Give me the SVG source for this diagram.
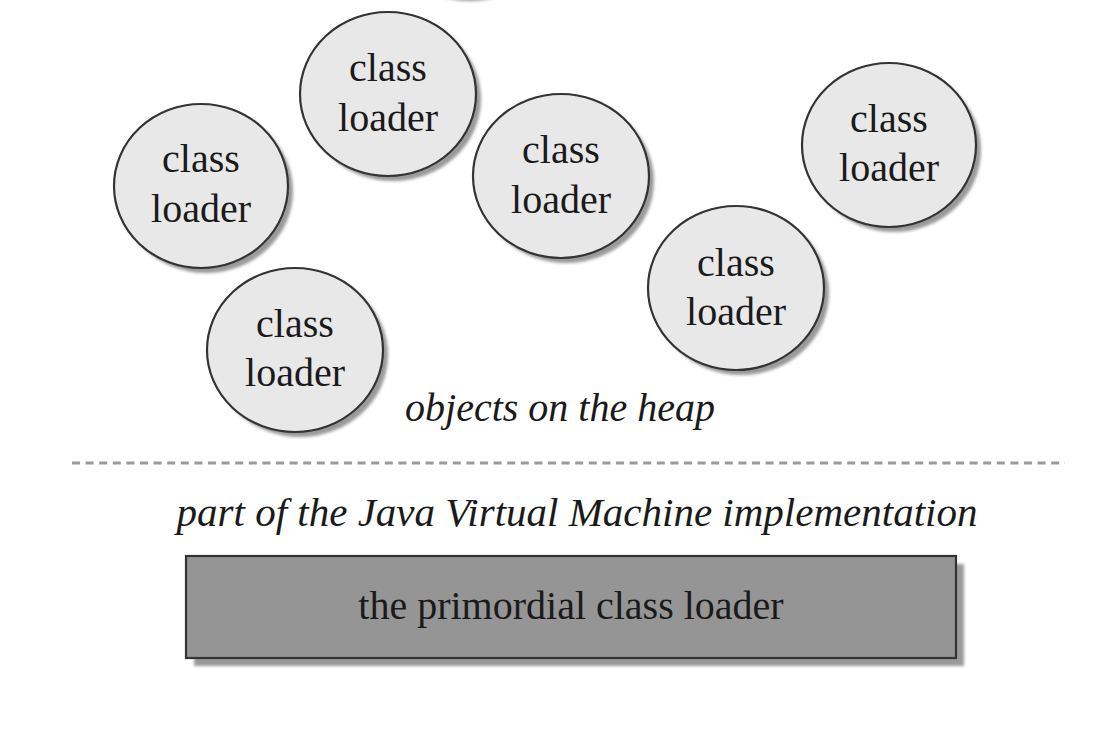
<svg xmlns="http://www.w3.org/2000/svg" width="1120" height="746" viewBox="0 0 1120 746">
<defs>
<filter id="blur" x="-10%" y="-10%" width="130%" height="130%"><feGaussianBlur stdDeviation="1.5"/></filter>
<style>
.sh{fill:#9a9a9a;filter:url(#blur)}
.cl{fill:#e8e8e8;stroke:#333;stroke-width:2.2}
.t{font-family:"Liberation Serif","Times New Roman",serif;font-size:40px;fill:#1a1a1a;text-anchor:middle}
.it{font-family:"Liberation Serif","Times New Roman",serif;font-size:40px;font-style:italic;fill:#1a1a1a;text-anchor:middle}
</style>
</defs>
<rect width="1120" height="746" fill="#fff"/>
<g id="partial">
<ellipse class="sh" cx="470" cy="-81" rx="88" ry="82"/>
<ellipse class="cl" cx="466" cy="-84" rx="88" ry="82"/>
</g>
<g id="cl-top">
<ellipse class="sh" cx="393" cy="99" rx="88" ry="82"/>
<ellipse class="cl" cx="388" cy="94" rx="88" ry="82"/>
<text class="t" x="388" y="81">class</text>
<text class="t" x="388" y="131">loader</text>
</g>
<g id="cl-left">
<ellipse class="sh" cx="206" cy="191" rx="87" ry="82"/>
<ellipse class="cl" cx="201" cy="186" rx="87" ry="82"/>
<text class="t" x="201" y="172">class</text>
<text class="t" x="201" y="222">loader</text>
</g>
<g id="cl-center">
<ellipse class="sh" cx="566" cy="181" rx="88" ry="82"/>
<ellipse class="cl" cx="561" cy="176" rx="88" ry="82"/>
<text class="t" x="561" y="163">class</text>
<text class="t" x="561" y="213">loader</text>
</g>
<g id="cl-right">
<ellipse class="sh" cx="894" cy="150" rx="87" ry="82"/>
<ellipse class="cl" cx="889" cy="145" rx="87" ry="82"/>
<text class="t" x="889" y="132">class</text>
<text class="t" x="889" y="181">loader</text>
</g>
<g id="cl-mid">
<ellipse class="sh" cx="741" cy="293" rx="88" ry="82"/>
<ellipse class="cl" cx="736" cy="288" rx="88" ry="82"/>
<text class="t" x="736" y="276">class</text>
<text class="t" x="736" y="325">loader</text>
</g>
<g id="cl-low">
<ellipse class="sh" cx="300" cy="355" rx="88" ry="82"/>
<ellipse class="cl" cx="295" cy="350" rx="88" ry="82"/>
<text class="t" x="295" y="337">class</text>
<text class="t" x="295" y="386">loader</text>
</g>
<g id="labels">
<text class="it" x="560" y="421">objects on the heap</text>
<line x1="72" y1="463" x2="1065" y2="463" stroke="#9a9a9a" stroke-width="3" stroke-dasharray="8 5.6"/>
<text class="it" x="577" y="526" style="font-size:41px">part of the Java Virtual Machine implementation</text>
</g>
<g id="primordial">
<rect x="194" y="564" width="770" height="102" class="sh"/>
<rect x="186" y="556" width="770" height="102" fill="#959595" stroke="#333" stroke-width="2.2"/>
<text class="t" x="571" y="619">the primordial class loader</text>
</g>
<g id="connectors"></g>
</svg>
